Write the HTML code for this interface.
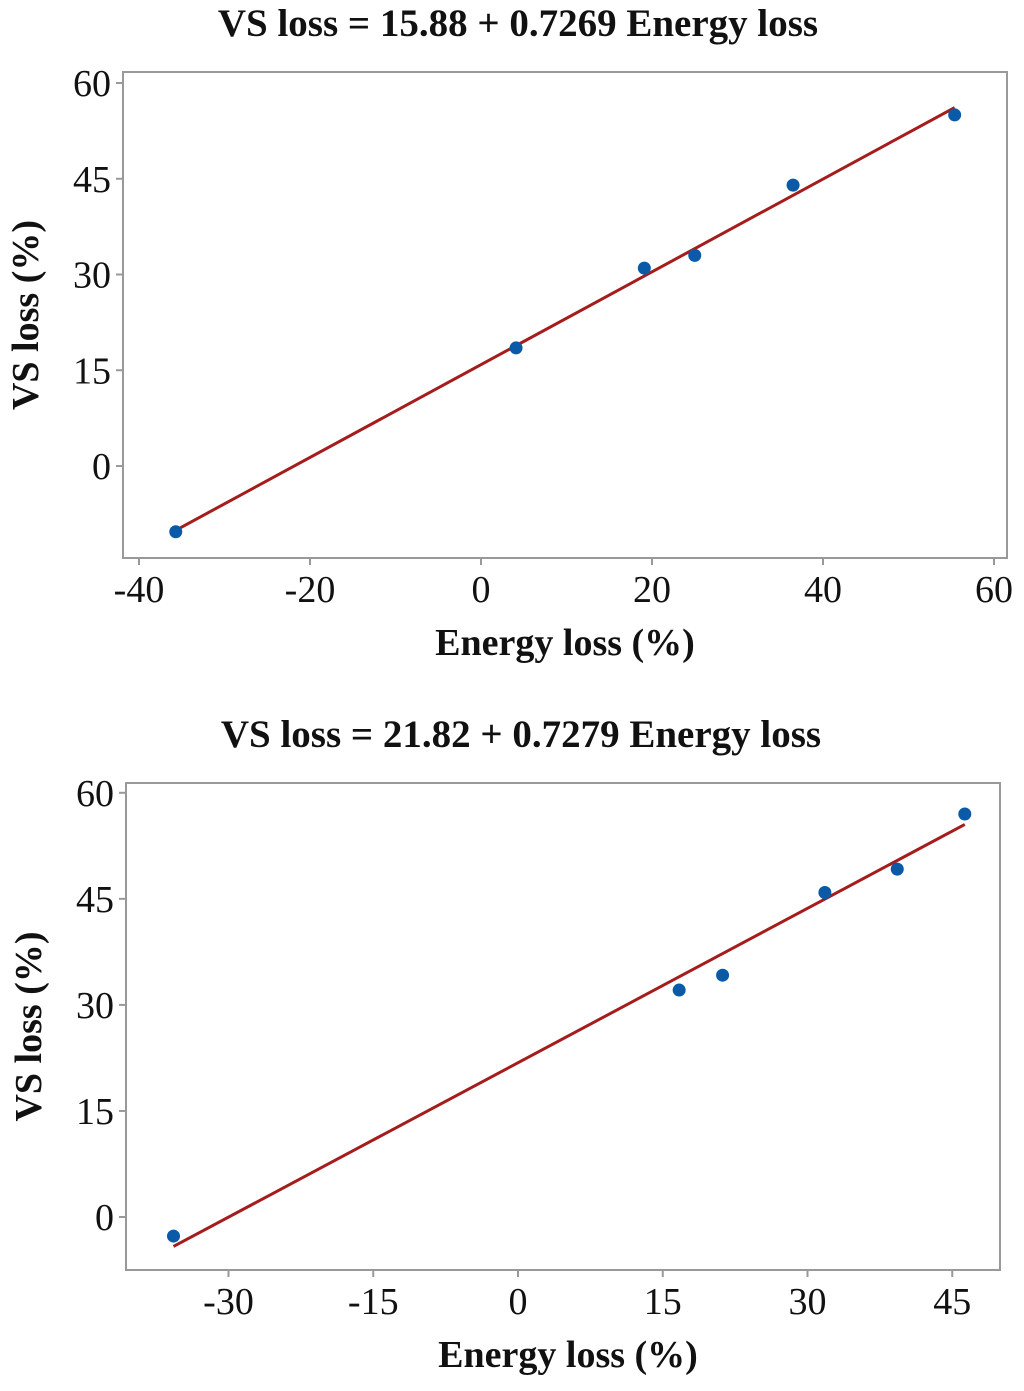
<!DOCTYPE html>
<html><head><meta charset="utf-8"><style>
body{margin:0;background:#fff;width:1024px;height:1386px;overflow:hidden}
svg text{font-family:"Liberation Serif",serif;fill:#111}
</style></head><body>
<svg id="s" width="1024" height="1386" xmlns="http://www.w3.org/2000/svg"></svg>
<script>
const top_x=[-35.7,4.1,19.1,25.0,36.5,55.4];
const top_y=[-10.3,18.5,31.0,33.0,44.0,55.0];
const top_xticks=[-40,-20,0,20,40,60];
const top_yticks=[0,15,30,45,60];
const top_fit=[15.88,0.7269];
const bot_x=[-35.7,16.7,21.2,31.8,39.3,46.3];
const bot_y=[-2.7,32.1,34.2,45.9,49.2,57.0];
const bot_xticks=[-30,-15,0,15,30,45];
const bot_yticks=[0,15,30,45,60];
const bot_fit=[21.82,0.7279];
const NS='http://www.w3.org/2000/svg';
const svg=document.getElementById('s');
function el(t,a,p){const e=document.createElementNS(NS,t);for(const k in a)e.setAttribute(k,a[k]);(p||svg).appendChild(e);return e;}
function chart(c){
 const g=el('g',{});
 
 
 const sx=v=>c.x0+(v-c.xa)*c.xs, sy=v=>c.y0-(v-c.ya)*c.ys;
 const fr=el('rect',{x:c.L,y:c.T,width:c.R-c.L,height:c.B-c.T,fill:'none',stroke:'#999','stroke-width':2},g);
 
 
 const t=el('text',{x:c.tx,y:c.T-36,'text-anchor':'middle','font-size':39,'font-weight':'bold'},g);t.textContent=c.title;
 
 
 c.xt.forEach(v=>{const x=sx(v);el('line',{x1:x,x2:x,y1:c.B,y2:c.B+7,stroke:'#999','stroke-width':2},g);
  const tx=el('text',{x:x,y:c.B+44,'text-anchor':'middle','font-size':38},g);tx.textContent=v;
  
  });
 c.yt.forEach(v=>{const y=sy(v);el('line',{x1:c.L-7,x2:c.L,y1:y,y2:y,stroke:'#999','stroke-width':2},g);
  const ty=el('text',{x:c.L-12,y:y+13,'text-anchor':'end','font-size':38},g);ty.textContent=v;
  
  });
 const xl=el('text',{x:c.xlx,y:c.B+97,'text-anchor':'middle','font-size':38,'font-weight':'bold'},g);xl.textContent='Energy loss (%)';
 
 
 const yx=c.L-85, yy=(c.T+c.B)/2;
 const yl=el('text',{x:yx,y:yy,'text-anchor':'middle','font-size':38,'font-weight':'bold',transform:`rotate(-90 ${yx} ${yy})`},g);yl.textContent='VS loss (%)';
 
 
 const mn=Math.min(...c.px), mx=Math.max(...c.px);
 const ln=el('line',{x1:sx(mn),y1:sy(c.fit[0]+c.fit[1]*mn),x2:sx(mx),y2:sy(c.fit[0]+c.fit[1]*mx),stroke:'#a51c1c','stroke-width':3},g);
 
 
 c.px.forEach((v,i)=>{const p=el('circle',{cx:sx(v),cy:sy(c.py[i]),r:6.5,fill:'#0a5aa8'},g);
  
  });
}
chart({name:'top-chart',title:'VS loss = 15.88 + 0.7269 Energy loss',L:123,R:1007,T:72,B:558,x0:481,xa:0,xs:8.55,y0:466,ya:0,ys:6.383,xt:top_xticks,yt:top_yticks,px:top_x,py:top_y,fit:top_fit,tx:518,xlx:565});
chart({name:'bottom-chart',title:'VS loss = 21.82 + 0.7279 Energy loss',L:126,R:1000,T:783,B:1270,x0:518,xa:0,xs:9.65,y0:1217,ya:0,ys:7.07,xt:bot_xticks,yt:bot_yticks,px:bot_x,py:bot_y,fit:bot_fit,tx:521,xlx:568});
</script>
</body></html>
